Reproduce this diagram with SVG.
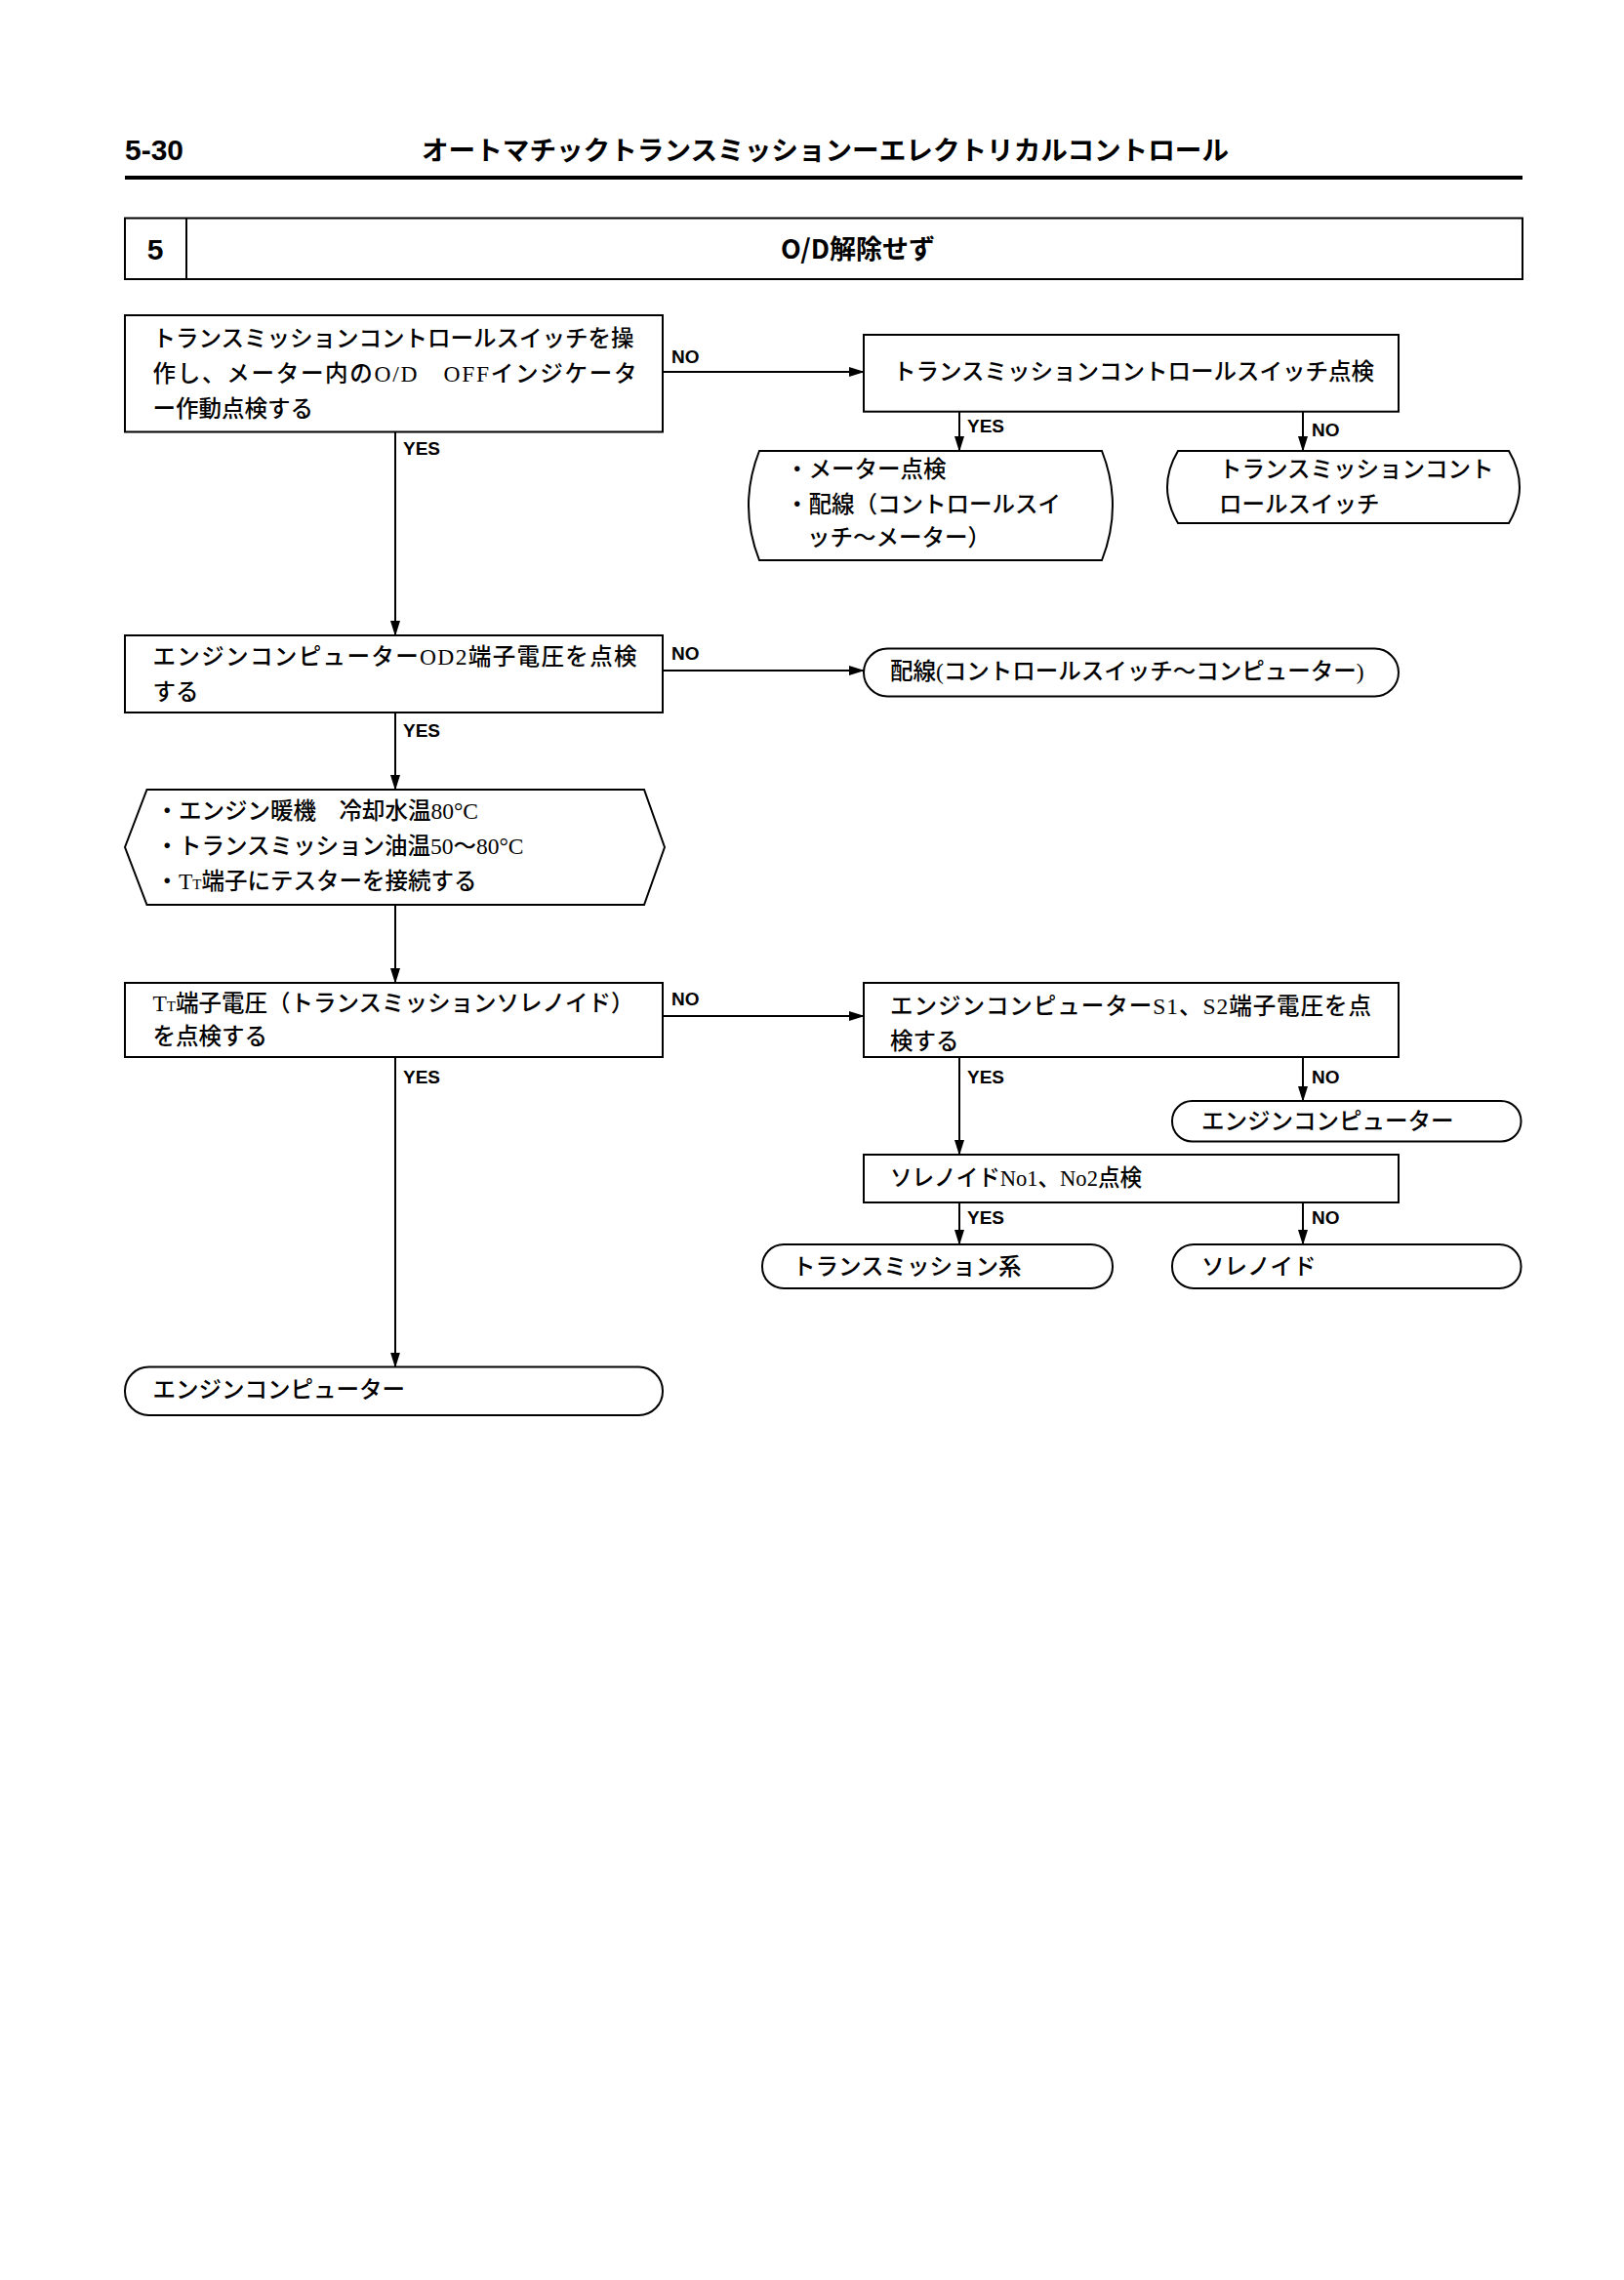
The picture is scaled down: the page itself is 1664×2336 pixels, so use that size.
<svg xmlns="http://www.w3.org/2000/svg" width="1664" height="2336" viewBox="0 0 1664 2336">
<defs>
<marker id="ah" markerUnits="userSpaceOnUse" markerWidth="16" markerHeight="10" refX="15" refY="5" orient="auto">
<path d="M0,0 L16,5 L0,10 Z" fill="#000"/>
</marker>
<style>
.box{fill:#fff;stroke:#000;stroke-width:2}
.t{font-family:"Liberation Serif","Noto Sans CJK JP",serif;font-size:23.5px;font-weight:500;fill:#000}
.lbl{font-family:"Liberation Sans","Noto Sans CJK JP",sans-serif;font-size:19px;font-weight:bold;fill:#000}
.ln{fill:none;stroke:#000;stroke-width:2;marker-end:url(#ah)}
.hd{font-family:"Noto Sans CJK JP",sans-serif;font-weight:bold;fill:#000}
</style>
</defs>
<rect width="1664" height="2336" fill="#fff"/>
<g id="header">
<text x="128" y="164" font-family="Liberation Sans,sans-serif" font-weight="bold" font-size="29" textLength="60" lengthAdjust="spacingAndGlyphs">5-30</text>
<text x="432" y="164" class="hd" font-size="27" textLength="827" lengthAdjust="spacingAndGlyphs">オートマチックトランスミッションーエレクトリカルコントロール</text>
<line x1="128" y1="182" x2="1560" y2="182" stroke="#000" stroke-width="4"/>
</g>
<g id="titlebox">
<rect x="128" y="223.5" width="1432" height="62.5" class="box"/>
<line x1="191" y1="223.5" x2="191" y2="286" stroke="#000" stroke-width="2"/>
<text x="159" y="266" text-anchor="middle" font-family="Liberation Sans,sans-serif" font-weight="bold" font-size="30">5</text>
<text x="879" y="265" text-anchor="middle" class="hd" font-size="27">O/D解除せず</text>
</g>
<g id="connectors">
<line x1="679" y1="381" x2="885" y2="381" class="ln"/>
<line x1="983" y1="422" x2="983" y2="462" class="ln"/>
<line x1="1335" y1="422" x2="1335" y2="462" class="ln"/>
<line x1="405" y1="442.5" x2="405" y2="651" class="ln"/>
<line x1="679" y1="687" x2="885" y2="687" class="ln"/>
<line x1="405" y1="730" x2="405" y2="809" class="ln"/>
<line x1="405" y1="927" x2="405" y2="1007" class="ln"/>
<line x1="679" y1="1041" x2="885" y2="1041" class="ln"/>
<line x1="983" y1="1083" x2="983" y2="1183" class="ln"/>
<line x1="1335" y1="1083" x2="1335" y2="1128" class="ln"/>
<line x1="983" y1="1232" x2="983" y2="1275" class="ln"/>
<line x1="1335" y1="1232" x2="1335" y2="1275" class="ln"/>
<line x1="405" y1="1083" x2="405" y2="1400.5" class="ln"/>
<text x="688" y="372" class="lbl">NO</text>
<text x="991" y="443" class="lbl">YES</text>
<text x="1344" y="447" class="lbl">NO</text>
<text x="413" y="466" class="lbl">YES</text>
<text x="688" y="676" class="lbl">NO</text>
<text x="413" y="755" class="lbl">YES</text>
<text x="688" y="1030" class="lbl">NO</text>
<text x="413" y="1110" class="lbl">YES</text>
<text x="991" y="1110" class="lbl">YES</text>
<text x="1344" y="1110" class="lbl">NO</text>
<text x="991" y="1254" class="lbl">YES</text>
<text x="1344" y="1254" class="lbl">NO</text>
</g>
<g id="n1">
<rect x="128" y="323" width="551" height="119.5" class="box"/>
<text x="156.5" y="355" class="t">トランスミッションコントロールスイッチを操</text>
<text x="156.5" y="391" class="t" textLength="496" lengthAdjust="spacing">作し、メーター内のO/D　OFFインジケータ</text>
<text x="156.5" y="427" class="t">ー作動点検する</text>
</g>
<g id="n2">
<rect x="885" y="343" width="548" height="78.7" class="box"/>
<text x="915" y="389" class="t">トランスミッションコントロールスイッチ点検</text>
</g>
<g id="n3">
<path d="M778,462 H1129 Q1151,518 1129,574 H778 Q756,518 778,462 Z" class="box"/>
<text x="805" y="489" class="t">・メーター点検</text>
<text x="805" y="525" class="t">・配線（コントロールスイ</text>
<text x="827" y="559" class="t">ッチ～メーター）</text>
</g>
<g id="n4">
<path d="M1207,462 H1546 Q1568,499 1546,536 H1207 Q1185,499 1207,462 Z" class="box"/>
<text x="1249" y="489" class="t">トランスミッションコント</text>
<text x="1249" y="525" class="t">ロールスイッチ</text>
</g>
<g id="n5">
<rect x="128" y="651" width="551" height="79" class="box"/>
<text x="156.5" y="681" class="t" textLength="496" lengthAdjust="spacing">エンジンコンピューターOD2端子電圧を点検</text>
<text x="156.5" y="717" class="t">する</text>
</g>
<g id="n6">
<rect x="885" y="664.5" width="548" height="49" rx="24.5" ry="24.5" class="box"/>
<text x="912" y="696" class="t">配線(コントロールスイッチ～コンピューター)</text>
</g>
<g id="n7">
<polygon points="128,868 150.5,809 660,809 681,868 660,927 150.5,927" class="box"/>
<text x="159.4" y="839" class="t">・エンジン暖機　冷却水温80°C</text>
<text x="159.4" y="875" class="t">・トランスミッション油温50～80°C</text>
<text x="159.4" y="911" class="t">・T<tspan font-size="15">T</tspan>端子にテスターを接続する</text>
</g>
<g id="n8">
<rect x="128" y="1007" width="551" height="76" class="box"/>
<text x="156.5" y="1036" class="t">T<tspan font-size="15">T</tspan>端子電圧（トランスミッションソレノイド）</text>
<text x="156.5" y="1070" class="t">を点検する</text>
</g>
<g id="n9">
<rect x="885" y="1007" width="548" height="76" class="box"/>
<text x="912" y="1039" class="t" textLength="493" lengthAdjust="spacing">エンジンコンピューターS1、S2端子電圧を点</text>
<text x="912" y="1075" class="t">検する</text>
</g>
<g id="n10">
<rect x="1201" y="1128" width="357.5" height="41.5" rx="20.5" ry="20.5" class="box"/>
<text x="1231" y="1157" class="t">エンジンコンピューター</text>
</g>
<g id="n11">
<rect x="885" y="1183" width="548" height="49" class="box"/>
<text x="912" y="1215" class="t" textLength="258" lengthAdjust="spacingAndGlyphs">ソレノイドNo1、No2点検</text>
</g>
<g id="n12">
<rect x="781" y="1275" width="359" height="45" rx="22" ry="22" class="box"/>
<text x="812" y="1306" class="t">トランスミッション系</text>
</g>
<g id="n13">
<rect x="1201" y="1275" width="357.5" height="45" rx="22" ry="22" class="box"/>
<text x="1231" y="1306" class="t">ソレノイド</text>
</g>
<g id="n14">
<rect x="128" y="1400.5" width="551" height="49.5" rx="24.5" ry="24.5" class="box"/>
<text x="156.5" y="1432" class="t">エンジンコンピューター</text>
</g>
</svg>
